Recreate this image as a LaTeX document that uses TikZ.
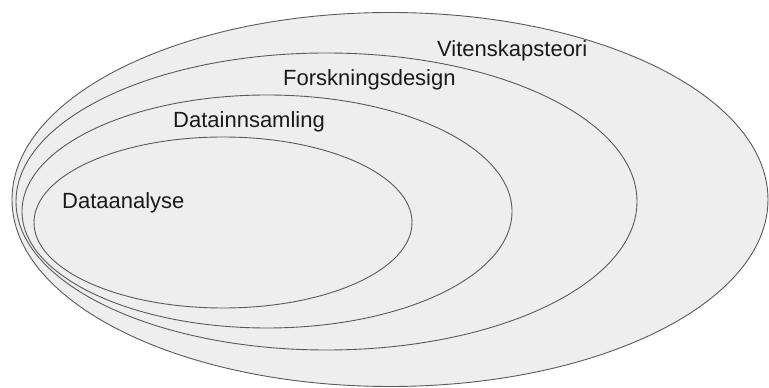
\documentclass[tikz,border=0pt]{standalone}
\usepackage{fontspec}
\setmainfont{Liberation Sans}
\definecolor{ink}{HTML}{1A1A1A}
\definecolor{rim}{HTML}{5A5A5A}
\definecolor{shade}{HTML}{EEEEEE}
\tikzset{
  ring/.style={draw=rim, line width=0.9pt, fill=shade},
  level/.style={anchor=base west, inner sep=0pt, text=ink, font=\fontsize{22}{24}\selectfont}
}
\begin{document}
\begin{tikzpicture}[x=1pt,y=1pt]
  \useasboundingbox (0,0) rectangle (769,388);
  \fill[white] (0,0) rectangle (769,388);

  % Nested fields, outermost first.
  \draw[ring] (390,188.5) ellipse [x radius=378, y radius=187];
  \draw[ring] (326.5,186.5) ellipse [x radius=310.5, y radius=148.5];
  \draw[ring] (267,176.5) ellipse [x radius=245, y radius=116.5];
  \draw[ring] (223,165.5) ellipse [x radius=189, y radius=85.5];

  % Labels.
  \node[level] (vitenskap) at (437,331.3) {Vitenskapsteori};
  \node[level] (design) at (283,302) {Forskningsdesign};
  \node[level] (innsamling) at (173,260) {Datainnsamling};
  \node[level] (analyse) at (62,179) {Dataanalyse};
\end{tikzpicture}
\end{document}
